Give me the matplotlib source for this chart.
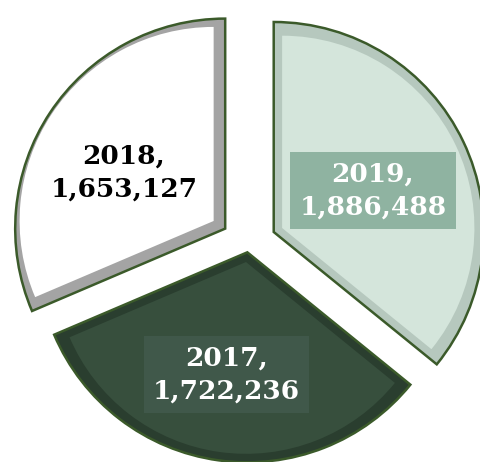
import matplotlib
matplotlib.use("Agg")
import matplotlib.pyplot as plt
import matplotlib.transforms as mtransforms
import numpy as np

# Data (clockwise from 12 o'clock)
years = ["2019", "2017", "2018"]
values = [1886488, 1722236, 1653127]

face_colors = ["#d4e5db", "#374f3d", "#ffffff"]
bevel_colors = ["#b6c8be", "#2a3e2f", "#a4a4a4"]
edge_color = "#3b5a2a"
label_colors = ["#ffffff", "#ffffff", "#000000"]
label_box = ["#8fb3a1", "#40584a", None]

labels = [f"{y},\n{v:,}" for y, v in zip(years, values)]

W, H = 481, 462
R_PX = 210.0
CX, CY = 248.5, 244.0

fig = plt.figure(figsize=(W / 100, H / 100), dpi=100)
ax = fig.add_axes([0, 0, 1, 1])

explode = [0.133, 0.04, 0.133]
edge_rim = np.array([0.04, 0.04, 0.055])   # rim width along straight edges
arc_rim = np.array([0.04, 0.04, 0.01])     # rim width along the arc

# outer (bevel) layer with labels
outer, texts = ax.pie(values, startangle=90, counterclock=False, radius=1.0,
                      explode=explode, colors=bevel_colors,
                      labels=labels, labeldistance=0.55,
                      wedgeprops=dict(edgecolor=edge_color, linewidth=1.8),
                      frame=True)

# inner (face) layer, pushed along each bisector so the rim stays even
fracs = np.array(values) / np.sum(values)
shift = edge_rim / np.sin(np.pi * fracs)
inner, _ = ax.pie(values, startangle=90, counterclock=False, radius=1.0,
                  explode=list(np.array(explode) + shift), colors=face_colors,
                  wedgeprops=dict(linewidth=0), frame=True)
for w, s, a in zip(inner, shift, arc_rim):
    w.set_radius(1.0 - s - a)

nudge = mtransforms.ScaledTranslation(-5 / 100, -8 / 100, fig.dpi_scale_trans)
for i, t in enumerate(texts):
    t.set_ha("center")
    t.set_va("center")
    t.set_color(label_colors[i])
    t.set_fontfamily("DejaVu Serif")
    t.set_fontsize(19)
    t.set_fontweight("bold")
    t.set_linespacing(1.4)
    t.set_zorder(5)
    t.set_transform(ax.transData + nudge)
    if label_box[i]:
        t.set_bbox(dict(boxstyle="square,pad=0.35", facecolor=label_box[i],
                        edgecolor="none"))

ax.set_xlim(-CX / R_PX, (W - CX) / R_PX)
ax.set_ylim((CY - H) / R_PX, CY / R_PX)
ax.set_aspect("equal")
ax.axis("off")

fig.savefig("out.png", dpi=100, facecolor="white")
